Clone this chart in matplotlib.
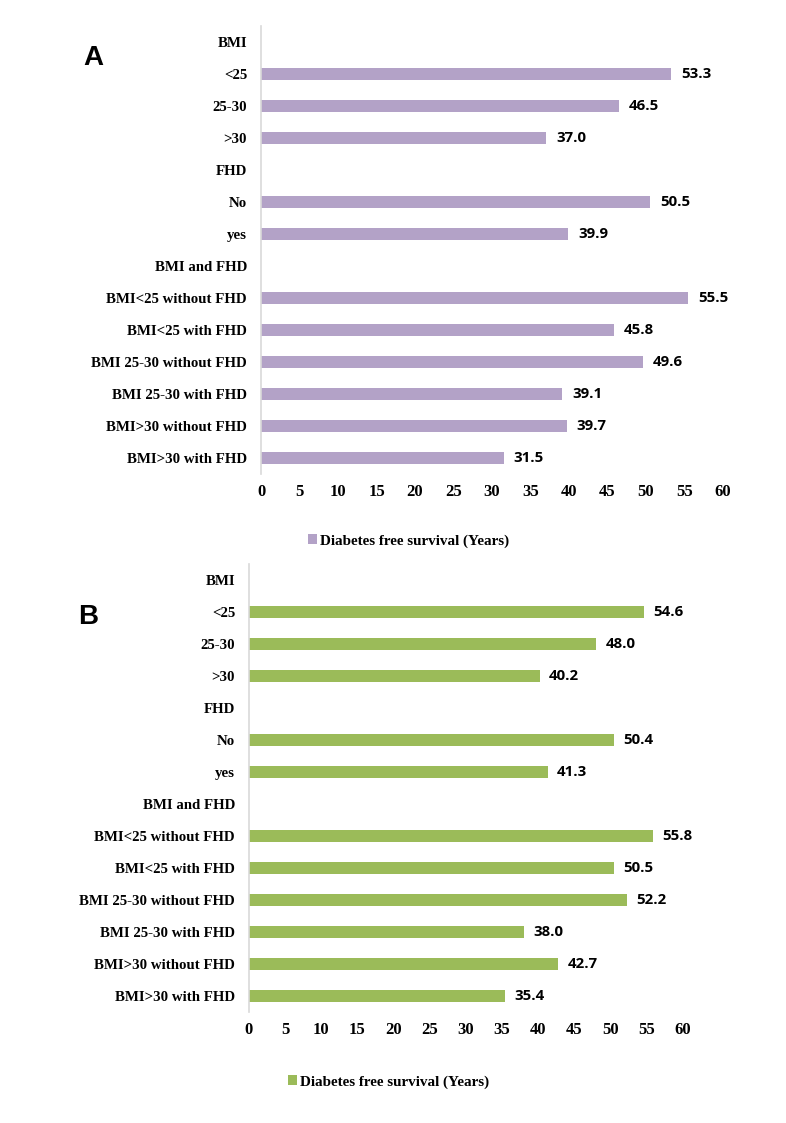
import numpy as np
import matplotlib
matplotlib.use("Agg")
import matplotlib.pyplot as plt

categories = ["BMI", "<25", "25-30", ">30", "FHD", "No", "yes", "BMI and FHD",
              "BMI<25 without FHD", "BMI<25 with FHD", "BMI 25-30 without FHD",
              "BMI 25-30 with FHD", "BMI>30 without FHD", "BMI>30 with FHD"]
nan = np.nan
values_a = [nan, 53.3, 46.5, 37.0, nan, 50.5, 39.9, nan, 55.5, 45.8, 49.6, 39.1, 39.7, 31.5]
values_b = [nan, 54.6, 48.0, 40.2, nan, 50.4, 41.3, nan, 55.8, 50.5, 52.2, 38.0, 42.7, 35.4]
xticks = list(range(0, 61, 5))
legend_label = "Diabetes free survival (Years)"

serif = "Liberation Serif"
fig = plt.figure(figsize=(7.86, 11.23), dpi=100)


def panel(rect, values, color, letter, letter_pos, legend_pos):
    ax = fig.add_axes(rect)
    y = np.arange(len(categories))
    bars = ax.barh(y, values, height=0.4, color=color, label=legend_label)
    for v, yy in zip(values, y):
        if not np.isnan(v):
            ax.text(v + 1.3, yy, f"{v:.1f}", va="center", ha="left",
                    fontsize=10.8, fontweight="bold", family="Open Sans")
    ax.set_ylim(len(categories) - 0.5, -0.5)
    ax.set_xlim(0, 60)
    ax.set_yticks(y)
    ax.set_yticklabels(categories, family=serif, fontweight="bold", fontsize=10.7)
    ax.set_xticks(xticks)
    ax.set_xticklabels([str(t) for t in xticks], family=serif, fontweight="bold", fontsize=12)
    ax.tick_params(axis="both", length=0)
    ax.tick_params(axis="y", pad=10)
    ax.tick_params(axis="x", pad=7)
    for s in ["top", "right", "bottom"]:
        ax.spines[s].set_visible(False)
    ax.spines["left"].set_color("#D9D9D9")
    ax.spines["left"].set_linewidth(1.2)
    fig.text(letter_pos[0], letter_pos[1], letter, fontsize=20, fontweight="bold",
             family="Liberation Sans", ha="center", va="center")
    fig.legend(handles=[bars], labels=[legend_label], loc="center left",
               bbox_to_anchor=legend_pos, frameon=False, handlelength=0.6,
               handleheight=0.6, handletextpad=0.2,
               prop={"family": serif, "weight": "bold", "size": 10.9})
    return ax


panel([261 / 786, 1 - 474 / 1123, 462 / 786, 448 / 1123], values_a, "#B3A2C7", "A",
      (93 / 786, 1 - 58 / 1123), (294 / 786, 1 - 541 / 1123))
panel([249 / 786, 1 - 1012 / 1123, 434 / 786, 448 / 1123], values_b, "#9BBB59", "B",
      (88 / 786, 1 - 617 / 1123), (274 / 786, 1 - 1082 / 1123))

fig.savefig("out.png", dpi=100)
